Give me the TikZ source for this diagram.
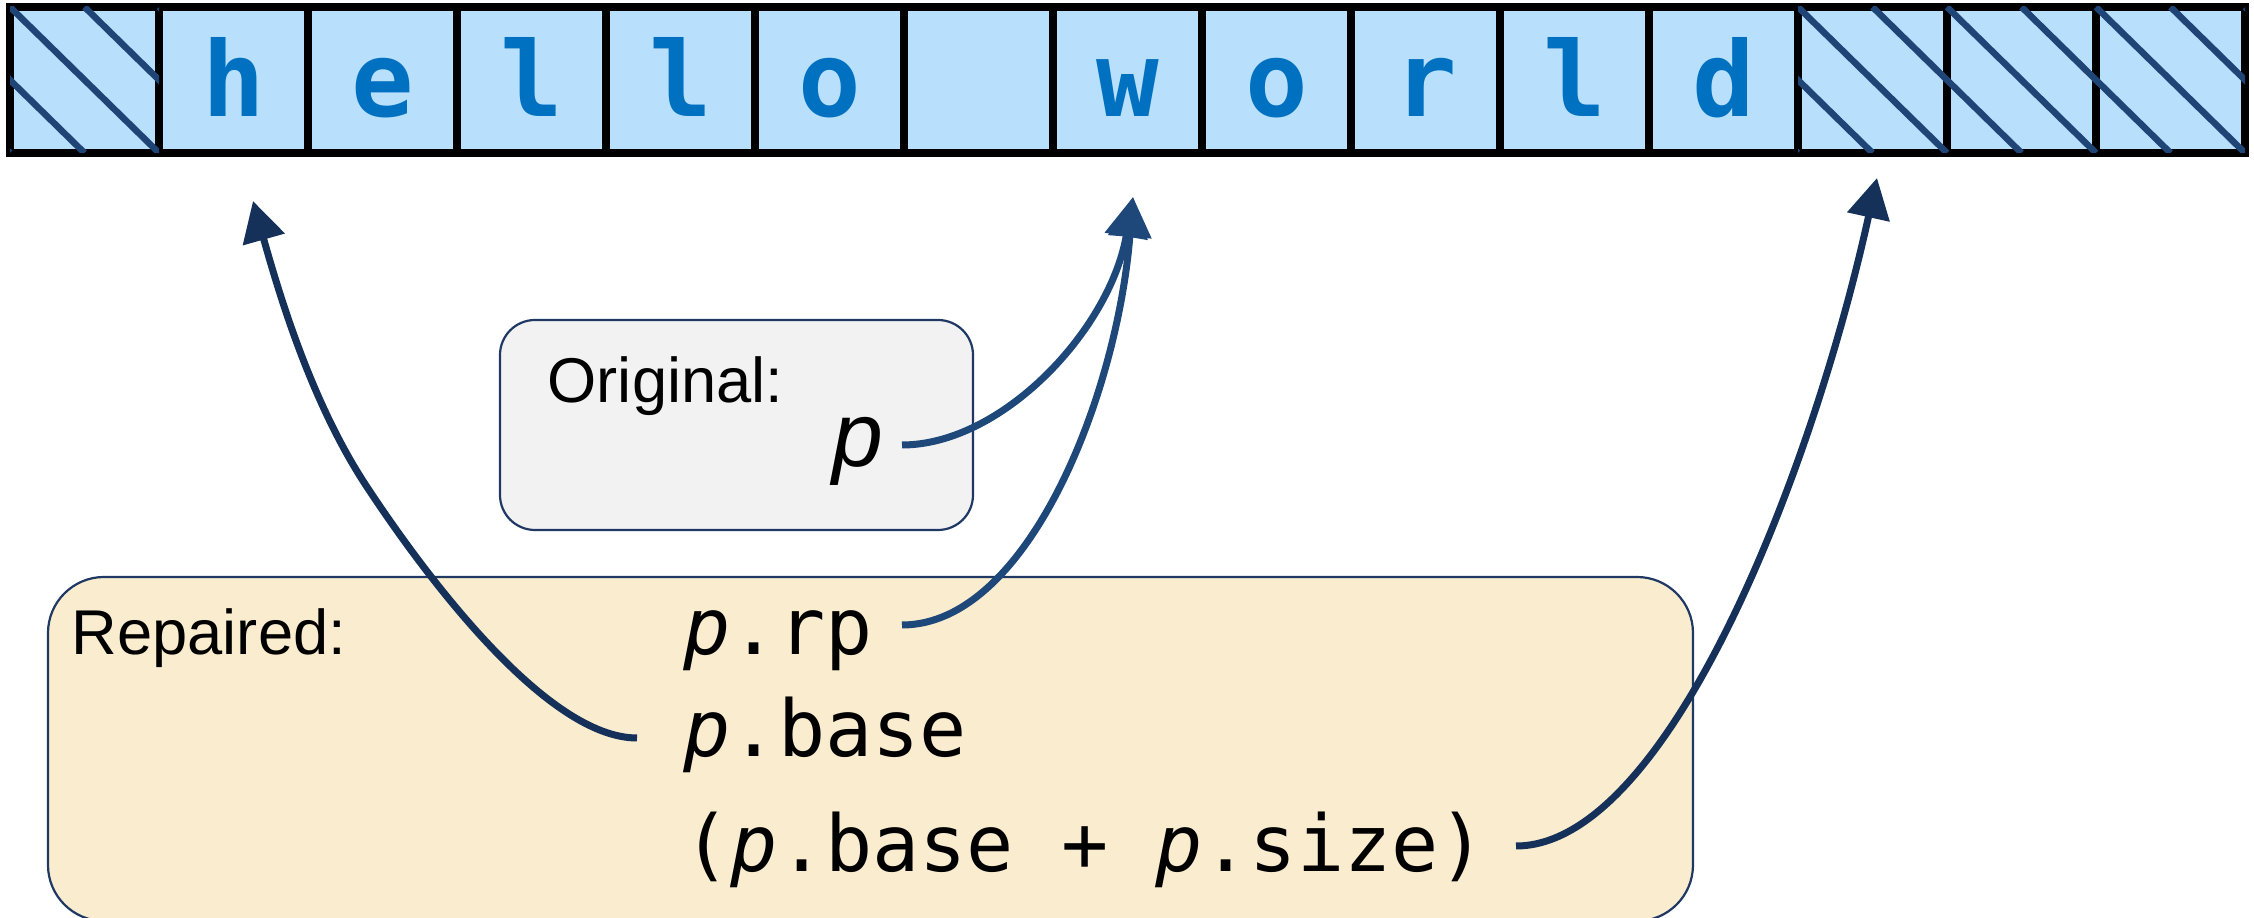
\documentclass[tikz,border=0pt]{standalone}
\usepackage{fontspec}
\setmainfont{Liberation Sans}
\newfontfamily\codefont{DejaVu Sans Mono}[ItalicFont={DejaVu Sans Mono Oblique},BoldFont={DejaVu Sans Mono Bold}]
\usetikzlibrary{arrows.meta}
\definecolor{cellfill}{HTML}{B8E0FC}
\definecolor{letterblue}{HTML}{0070C0}
\definecolor{hatchblue}{HTML}{1F4577}
\definecolor{navy}{HTML}{15315A}
\definecolor{arrowblue}{HTML}{1F487A}
\definecolor{origfill}{HTML}{F2F2F2}
\definecolor{repfill}{HTML}{FAECCE}
\definecolor{boxline}{HTML}{1F3864}
\begin{document}
\begin{tikzpicture}[x=0.1mm,y=-0.1mm,
  cellbox/.style={draw=black, line width=0.8mm, fill=cellfill,
    minimum width=14.9mm, minimum height=14.6mm, inner sep=0pt,
    text height=7.4mm, text depth=0pt, text=letterblue,
    font=\codefont\bfseries\fontsize{29.6}{32}\selectfont},
  hatchline/.style={draw=hatchblue, line width=0.65mm},
  lbl/.style={font=\fontsize{18}{21}\selectfont, inner sep=0pt, anchor=base west},
  codetxt/.style={font=\codefont\fontsize{22.3}{26}\selectfont, inner sep=0pt, anchor=base west},
  conn/.style={line width=0.7mm, -{Triangle[length=4mm,width=4.2mm]}},
  roundbox/.style={draw=boxline, line width=0.22mm, inner sep=0pt}
]
\useasboundingbox (0,0) rectangle (2254,918);

% memory cells
\foreach \ch [count=\i from 0] in {{},h,e,l,l,o,{},w,o,r,l,d,{},{},{}} {
  \node[cellbox] (c\i) at ({84.5+149*\i},80) {\ch};
}
% hatching
\begin{scope}
  \clip (10,7) rectangle (159,153);
  \foreach \k in {-2,...,2} \draw[hatchline] ({10+74.5*\k},7) -- ++(149,146);
\end{scope}
\begin{scope}
  \clip (1798,7) rectangle (2245,153);
  \foreach \k in {-2,...,6} \draw[hatchline] ({1798+74.5*\k},7) -- ++(149,146);
\end{scope}

% boxes
\node[roundbox, fill=repfill, rounded corners=5.6mm,
      minimum width=164.5mm, minimum height=34.4mm] (repbox) at (870.5,749) {};
\node[roundbox, fill=origfill, rounded corners=3.5mm,
      minimum width=47.3mm, minimum height=21mm] (origbox) at (736.5,425) {};

% texts
\node[lbl] (origlbl) at (547,403) {Original:};
\node[font=\itshape\fontsize{26}{30}\selectfont, inner sep=0pt, anchor=base west] (porig) at (832,467) {p};
\node[lbl] (replbl) at (71,655) {Repaired:};
\node[codetxt] (lrp) at (683,655) {\textit{p}.rp};
\node[codetxt] (lbase) at (683,757) {\textit{p}.base};
\node[codetxt] (lsum) at (683,872) {(\textit{p}.base + \textit{p}.size)};

% connector ends
\coordinate (porigout) at (902,445);
\coordinate (lrpout) at (902,625);
\coordinate (lbaseout) at (637,738);
\coordinate (lsumout) at (1516,846);
\coordinate (a1mid) at (367,487);
\coordinate (tipH) at (253,201);
\coordinate (tipW) at (1133,197);
\coordinate (tipEnd) at (1877,178);

% connectors
\draw[conn, color=navy] (lbaseout) .. controls (547,738) and (427,578) .. (a1mid)
   .. controls (312,404) and (280,297) .. (tipH);
\draw[conn, color=arrowblue] (porigout) .. controls (1002,445) and (1110,330) .. (tipW);
\draw[conn, color=arrowblue] (lrpout) .. controls (1027,625) and (1117,397) .. (tipW);
\draw[conn, color=navy] (lsumout) .. controls (1666,846) and (1811,478) .. (tipEnd);
\end{tikzpicture}
\end{document}
